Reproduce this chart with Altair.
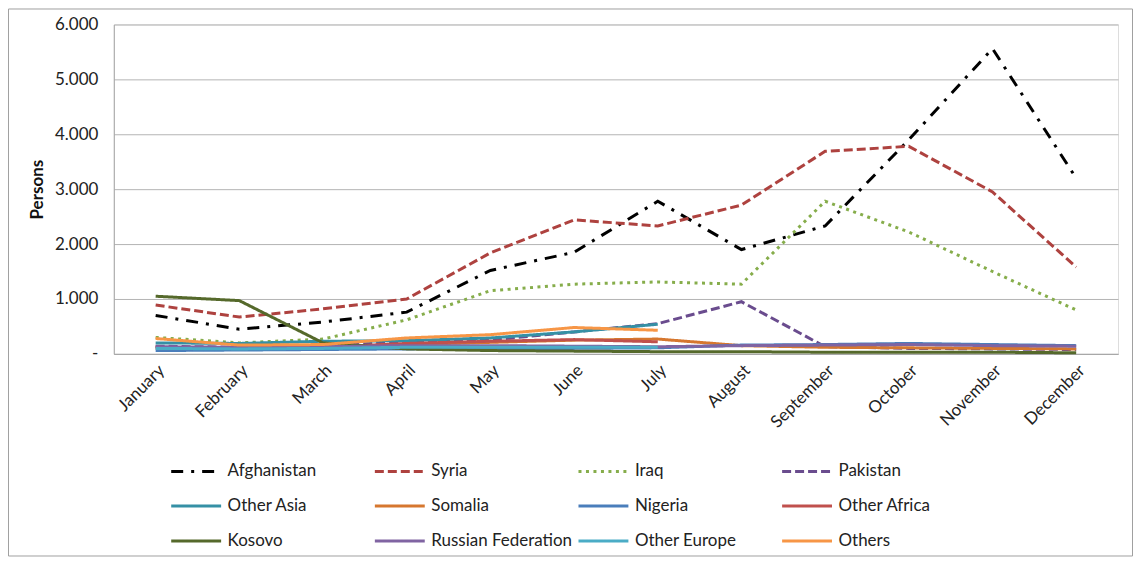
import altair as alt
import pandas as pd

months = ["January", "February", "March", "April", "May", "June", "July",
          "August", "September", "October", "November", "December"]
series = ["Afghanistan", "Syria", "Iraq", "Pakistan", "Other Asia", "Somalia",
          "Nigeria", "Other Africa", "Kosovo", "Russian Federation",
          "Other Europe", "Others"]

afghanistan = [700, 450, 580, 760, 1520, 1850, 2780, 1900, 2330, 3900, 5560, 3200]
syria = [890, 670, 820, 1000, 1840, 2440, 2330, 2710, 3690, 3780, 2950, 1580]
iraq = [300, 200, 270, 620, 1150, 1270, 1310, 1270, 2780, 2220, 1500, 800]
pakistan = [140, 120, 140, 220, 250, 400, 550, 950, 130, 100, 90, 80]
other_asia = [200, 190, 230, 240, 290, 400, 540, None, None, None, None, None]
somalia = [110, 110, 130, 170, 210, 250, 270, 150, 120, 110, 100, 90]
nigeria = [60, 70, 80, 90, 100, 100, 110, 160, 170, 190, 170, 150]
other_africa = [120, 100, 120, 190, 230, 260, 220, None, None, None, None, None]
kosovo = [1050, 970, 200, 90, 60, 50, 40, 40, 30, 30, 30, 20]
russian_federation = [130, 120, 130, 150, 150, 140, 130, 150, 160, 170, 150, 140]
other_europe = [100, 90, 100, 120, 120, 120, 120, None, None, None, None, None]
others = [280, 160, 170, 290, 350, 480, 430, None, None, None, None, None]

values = [afghanistan, syria, iraq, pakistan, other_asia, somalia, nigeria,
          other_africa, kosovo, russian_federation, other_europe, others]

colors = ["#000000", "#AE423F", "#86AD4B", "#6A4C8E", "#3590A5", "#D6772F",
          "#4A7EBB", "#C0504D", "#55692B", "#8064A2", "#4BACC6", "#F79646"]
dashes = [[12, 8, 3, 8], [9, 4], [3, 4.5], [9, 4], [1, 0], [1, 0],
          [1, 0], [1, 0], [1, 0], [1, 0], [1, 0], [1, 0]]

# legend fills column by column (3 rows x 4 columns); order so that rows read as in the reference
legend_order = [series[r * 4 + c] for c in range(4) for r in range(3)]
color_map = dict(zip(series, colors))
dash_map = dict(zip(series, dashes))

rows = []
for name, vals in zip(series, values):
    for m, v in zip(months, vals):
        if v is not None:
            rows.append({"Country": name, "Month": m, "Persons": v})
df = pd.DataFrame(rows)

FONT = "Lato"
FS = 17

legend = alt.Legend(title=None, orient="none", legendX=56, legendY=421,
                    columns=4, symbolType="stroke", symbolSize=2500,
                    symbolStrokeWidth=3, labelFont=FONT,
                    labelFontSize=FS, labelColor="#222222",
                    columnPadding=-1, rowPadding=-1.5, gridAlign="all",
                    labelOffset=5, labelLimit=300)

lines = alt.Chart(df).mark_line(strokeWidth=3).encode(
    x=alt.X("Month:N", sort=months, title=None,
            axis=alt.Axis(labelAngle=-45, labelFontSize=FS, labelFont=FONT,
                          labelColor="#222222", ticks=False, domainColor="#A6A6A6",
                          labelPadding=8, grid=False)),
    y=alt.Y("Persons:Q", scale=alt.Scale(domain=[0, 6000], nice=False),
            title="Persons",
            axis=alt.Axis(values=[0, 1000, 2000, 3000, 4000, 5000, 6000],
                          labelExpr="datum.value == 0 ? '-' : replace(format(datum.value, ',d'), ',', '.')",
                          labelFontSize=FS, labelFont=FONT, labelColor="#222222",
                          ticks=False, domainColor="#A6A6A6", gridColor="#B4B4B4",
                          labelPadding=16, titleFont=FONT, titleFontSize=FS,
                          titleFontWeight="bold", titleColor="#111111",
                          titleAngle=-90, titleX=-76, titleY=165,
                          titleBaseline="middle", titleAlign="center")),
    color=alt.Color("Country:N", sort=legend_order,
                    scale=alt.Scale(domain=legend_order,
                                    range=[color_map[s] for s in legend_order]),
                    legend=legend),
    strokeDash=alt.StrokeDash("Country:N", sort=legend_order,
                              scale=alt.Scale(domain=legend_order,
                                              range=[dash_map[s] for s in legend_order]),
                              legend=legend),
)

frame = alt.Chart(alt.Data(values=[{"a": 1}])).mark_rect(
    fill=None, stroke="#A0A0A0", strokeWidth=1
).encode(
    x=alt.value(-105.5), x2=alt.value(1020.5),
    y=alt.value(-15.5), y2=alt.value(532.5)
)

chart = alt.layer(frame, lines).properties(
    width=1006, height=330,
    autosize=alt.AutoSizeParams(type="none"),
    padding={"left": 106, "top": 16, "right": 15, "bottom": 203},
).configure_view(stroke=None).configure(background="white")

chart.save("out.html", embed_options={"renderer": "svg", "actions": False})
